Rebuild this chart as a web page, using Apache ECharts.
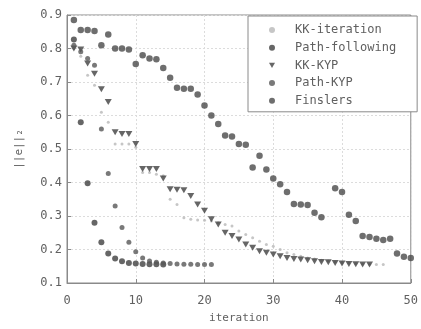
<!DOCTYPE html>
<html>
<head>
<meta charset="utf-8">
<script src="https://cdn.jsdelivr.net/npm/echarts@6/dist/echarts.min.js"></script>
<style>
html, body { margin: 0; padding: 0; background: #fff; }
#chart { width: 421px; height: 329px; }
</style>
</head>
<body>
<div id="chart"></div>
<script>
// Error norm per iteration for each solver
const kkIterIters = [1,2,3,4,5,6,7,8,9,10,11,12,13,14,15,16,17,18,19,20,21,22,23,24,25,26,27,28,29,30,31,32,33,34,35,36,37,38,39,40,41,42,43,44,45,46];
const kkIterErr = [0.80,0.777,0.72,0.69,0.61,0.58,0.515,0.515,0.515,0.505,0.43,0.43,0.425,0.42,0.35,0.334,0.295,0.29,0.288,0.287,0.285,0.28,0.275,0.27,0.255,0.245,0.235,0.225,0.215,0.21,0.20,0.19,0.185,0.18,0.175,0.172,0.168,0.166,0.163,0.161,0.16,0.158,0.157,0.156,0.155,0.155];

const pathFollowIters = [1,2,3,4,5,6,7,8,9,10,11,12,13,14];
const pathFollowErr = [0.827,0.58,0.398,0.28,0.222,0.188,0.173,0.165,0.16,0.158,0.157,0.156,0.156,0.155];

const kkKypIters = [1,2,3,4,5,6,7,8,9,10,11,12,13,14,15,16,17,18,19,20,21,22,23,24,25,26,27,28,29,30,31,32,33,34,35,36,37,38,39,40,41,42,43,44];
const kkKypErr = [0.80,0.797,0.755,0.725,0.678,0.64,0.55,0.545,0.545,0.515,0.44,0.44,0.44,0.412,0.38,0.378,0.377,0.36,0.334,0.316,0.29,0.275,0.25,0.24,0.23,0.215,0.205,0.195,0.19,0.185,0.18,0.175,0.172,0.17,0.168,0.165,0.163,0.162,0.16,0.158,0.157,0.156,0.155,0.155];

const pathKypIters = [1,2,3,4,5,6,7,8,9,10,11,12,13,14,15,16,17,18,19,20,21];
const pathKypErr = [0.81,0.79,0.77,0.75,0.56,0.427,0.33,0.266,0.222,0.193,0.175,0.166,0.162,0.16,0.158,0.157,0.156,0.156,0.155,0.155,0.155];

const finslerIters = [1,2,3,4,5,6,7,8,9,10,11,12,13,14,15,16,17,18,19,20,21,22,23,24,25,26,27,28,29,30,31,32,33,34,35,36,37,39,40,41,42,43,44,45,46,47,48,49,50];
const finslerErr = [0.885,0.855,0.855,0.852,0.81,0.842,0.80,0.80,0.797,0.754,0.78,0.77,0.768,0.742,0.713,0.683,0.68,0.68,0.663,0.63,0.60,0.575,0.54,0.537,0.515,0.513,0.445,0.48,0.439,0.412,0.395,0.372,0.336,0.334,0.333,0.31,0.296,0.383,0.372,0.304,0.285,0.24,0.237,0.232,0.228,0.232,0.188,0.178,0.175];

const seriesNames = ['KK-iteration', 'Path-following', 'KK-KYP', 'Path-KYP', 'Finslers'];
const xTicks = [0, 10, 20, 30, 40, 50];
const yTicks = [0.1, 0.2, 0.3, 0.4, 0.5, 0.6, 0.7, 0.8, 0.9];

const pair = (xs, ys) => xs.map((x, i) => [x, ys[i]]);
const MONO = '"DejaVu Sans Mono", "Liberation Mono", monospace';
const downTri = 'path://M0,0L10,0L5,9Z';
const TEXT = '#606060';

const chart = echarts.init(document.getElementById('chart'), null, { renderer: 'canvas' });

const axisCommon = {
  axisLine: { show: true, lineStyle: { color: '#8a8a8a', width: 1 } },
  axisTick: { show: true, inside: true, length: 4, lineStyle: { color: '#8a8a8a' } },
  splitLine: { show: true, lineStyle: { color: '#dcdcdc', type: [2, 2], width: 1 } },
  axisLabel: { color: TEXT, fontFamily: MONO, fontSize: 12 }
};

chart.setOption({
  animation: false,
  backgroundColor: '#fff',
  grid: { left: 67, right: 5, top: 15, bottom: 39, show: true, borderColor: '#8a8a8a', borderWidth: 1, backgroundColor: 'transparent' },
  xAxis: Object.assign({}, axisCommon, {
    type: 'value', min: xTicks[0], max: xTicks[xTicks.length - 1], interval: 10,
    name: 'iteration', nameLocation: 'middle', nameGap: 30,
    nameTextStyle: { color: TEXT, fontFamily: MONO, fontSize: 11 },
    axisLabel: Object.assign({}, axisCommon.axisLabel, { margin: 12 })
  }),
  yAxis: Object.assign({}, axisCommon, {
    type: 'value', min: yTicks[0], max: yTicks[yTicks.length - 1], interval: 0.1,
    name: '||e||\u2082', nameLocation: 'middle', nameGap: 42, nameRotate: 90,
    nameTextStyle: { color: TEXT, fontFamily: MONO, fontSize: 11 },
    axisLabel: Object.assign({}, axisCommon.axisLabel, { margin: 5, formatter: v => v.toFixed(1) })
  }),
  legend: {
    orient: 'vertical',
    left: 248, top: 16,
    padding: [8, 21, 5, 21],
    itemWidth: 6, itemHeight: 6, itemGap: 5.7,
    borderColor: '#8a8a8a', borderWidth: 1, backgroundColor: '#fff',
    textStyle: { color: TEXT, fontFamily: MONO, fontSize: 12, lineHeight: 12, padding: [0, 0, 0, 15] },
    data: seriesNames
  },
  series: [
    { name: seriesNames[0], type: 'scatter', symbol: 'circle', symbolSize: 3,
      itemStyle: { color: '#b8b8b8' }, data: pair(kkIterIters, kkIterErr), z: 2 },
    { name: seriesNames[1], type: 'scatter', symbol: 'circle', symbolSize: 6,
      itemStyle: { color: '#404040' }, data: pair(pathFollowIters, pathFollowErr), z: 3 },
    { name: seriesNames[2], type: 'scatter', symbol: downTri, symbolSize: [7, 6],
      itemStyle: { color: '#404040' }, data: pair(kkKypIters, kkKypErr), z: 4 },
    { name: seriesNames[3], type: 'scatter', symbol: 'circle', symbolSize: 5,
      itemStyle: { color: '#585858' }, data: pair(pathKypIters, pathKypErr), z: 5 },
    { name: seriesNames[4], type: 'scatter', symbol: 'circle', symbolSize: 6.5,
      itemStyle: { color: '#4a4a4a' }, data: pair(finslerIters, finslerErr), z: 6 }
  ]
});
</script>
</body>
</html>
